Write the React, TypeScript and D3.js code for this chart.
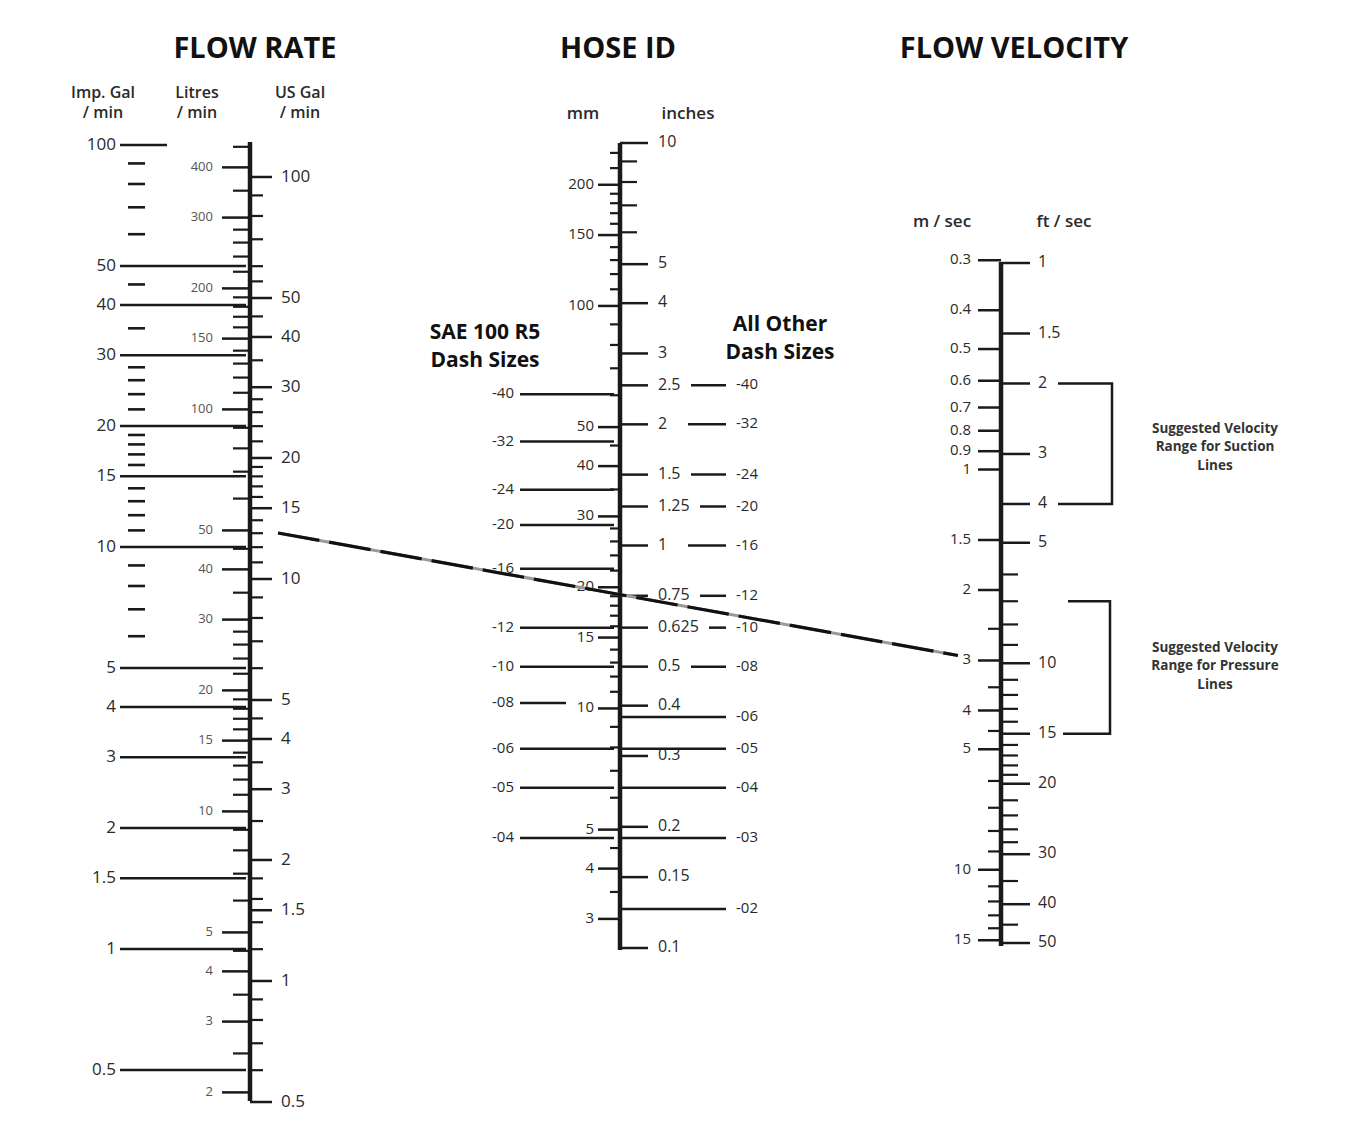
import React from 'react';
import * as d3 from 'd3';

// ---------- FLOW RATE ----------
const usGalMajor = [100, 50, 40, 30, 20, 15, 10, 5, 4, 3, 2, 1.5, 1, 0.5];
const usGalMinor = [90, 80, 70, 60, 55, 45, 35, 28, 26, 24, 22, 19, 18, 17, 16, 14, 13, 12, 11, 9, 8, 7, 6, 4.5, 3.5, 2.5, 1.8, 1.6, 1.4, 1.2, 0.9, 0.8, 0.7, 0.6];
const litreMajor = [400, 300, 200, 150, 100, 50, 40, 30, 20, 15, 10, 5, 4, 3, 2];
const litreMinor = [450, 350, 280, 260, 240, 220, 190, 180, 170, 160, 140, 130, 120, 110, 90, 80, 70, 60, 45, 35, 28, 26, 24, 22, 19, 18, 17, 16, 14, 13, 12, 11, 9, 8, 7, 6, 4.5, 3.5, 2.5];
const impMajor = [100, 50, 40, 30, 20, 15, 10, 5, 4, 3, 2, 1.5, 1, 0.5];
const impMinor = [90, 80, 70, 60, 45, 35, 28, 26, 24, 22, 19, 18, 17, 16, 14, 13, 12, 11, 9, 8, 7, 6];

// ---------- HOSE ID ----------
const inchMajor = [10, 5, 4, 3, 2.5, 2, 1.5, 1.25, 1, 0.75, 0.625, 0.5, 0.4, 0.3, 0.2, 0.15, 0.1];
const inchMinor = [9, 8, 7, 6];
const mmMajor = [200, 150, 100, 50, 40, 30, 20, 15, 10, 5, 4, 3];
const mmMinor = [240, 220, 190, 180, 170, 160, 140, 130, 120, 110, 90, 80, 70, 60, 45, 35, 28, 26, 24, 22, 19, 18, 17, 16, 14, 13, 12, 11, 9, 8, 7, 6, 4.5, 3.5];
const saeDashLabels = ['-40', '-32', '-24', '-20', '-16', '-12', '-10', '-08', '-06', '-05', '-04'];
const saeDashInches = [2.375, 1.8125, 1.375, 1.125, 0.875, 0.625, 0.5, 0.40625, 0.3125, 0.25, 0.1875];
const otherDashLabels = ['-40', '-32', '-24', '-20', '-16', '-12', '-10', '-08', '-06', '-05', '-04', '-03', '-02'];
const otherDashInches = [2.5, 2, 1.5, 1.25, 1, 0.75, 0.625, 0.5, 0.375, 0.3125, 0.25, 0.1875, 0.125];

// ---------- FLOW VELOCITY ----------
const ftMajor = [1, 1.5, 2, 3, 4, 5, 10, 15, 20, 30, 40, 50];
const ftMinor = [6, 7, 8, 9, 11, 12, 13, 14, 16, 17, 18, 19, 22, 24, 26, 28, 35, 45];
const msMajor = [0.3, 0.4, 0.5, 0.6, 0.7, 0.8, 0.9, 1, 1.5, 2, 3, 4, 5, 10, 15];
const msMinor = [2.5, 3.5, 4.5, 6, 7, 8, 9, 11, 12, 13, 14];
const suctionRangeFt = [2, 4];
const pressureRangeFt = [7, 15];

// ---------- EXAMPLE ----------
const exampleFlowUsGpm = 13.4;
const exampleVelocityFt = 10;

const FONT = "'Open Sans', 'DejaVu Sans', sans-serif";
const INK = '#1a1a1a';
const TXT = '#2a2a2a';

const fmt = (v: number) => String(v);

export default function App() {
  // flow scales
  const usGal = d3.scaleLog().domain([1, 100]).range([981, 177]);
  const litreY = (v: number) => usGal(v / 3.78541);
  const impY = (v: number) => usGal(v * 1.20095);
  // hose scales
  const inch = d3.scaleLog().domain([0.1, 10]).range([948, 143]);
  const mmY = (v: number) => inch(v / 25.4);
  // velocity scales
  const ft = d3.scaleLog().domain([1, 50]).range([263, 943]);
  const msY = (v: number) => ft(v * 3.28084);

  const fx = 250, hx = 620, vx = 1001;

  const yA = usGal(exampleFlowUsGpm);
  const yB = ft(exampleVelocityFt);
  const slope = (yB - yA) / (vx - fx);
  const lx1 = 278, lx2 = 958;
  const ly1 = yA + slope * (lx1 - fx);
  const ly2 = yA + slope * (lx2 - fx);

  const hl = (key: string, x1: number, x2: number, y: number, w = 2.2) => (
    <line key={key} x1={x1} x2={x2} y1={y} y2={y} stroke={INK} strokeWidth={w} />
  );

  return (
    <svg width={1355} height={1136} style={{ position: 'absolute', left: 0, top: 0, background: '#fff' }} fontFamily={FONT}>
      <rect x={0} y={0} width={1355} height={1136} fill="#fff" />

      {/* Titles */}
      <g fontWeight={700} fontSize={29} fill="#111" textAnchor="middle">
        <text x={255} y={58}>FLOW RATE</text>
        <text x={618} y={58}>HOSE ID</text>
        <text x={1014} y={58}>FLOW VELOCITY</text>
      </g>

      {/* Sub headers */}
      <g fontWeight={600} fontSize={16} fill={TXT} textAnchor="middle">
        <text x={103} y={98}>Imp. Gal</text>
        <text x={103} y={118}>/ min</text>
        <text x={197} y={98}>Litres</text>
        <text x={197} y={118}>/ min</text>
        <text x={300} y={98}>US Gal</text>
        <text x={300} y={118}>/ min</text>
      </g>
      <g fontWeight={600} fontSize={17} fill={TXT} textAnchor="middle">
        <text x={583} y={119}>mm</text>
        <text x={688} y={119}>inches</text>
        <text x={942} y={227}>m / sec</text>
        <text x={1064} y={227}>ft / sec</text>
      </g>

      {/* ===== FLOW RATE AXIS ===== */}
      <line x1={fx} x2={fx} y1={142} y2={1101} stroke={INK} strokeWidth={4.5} />
      {usGalMajor.map((v) => hl('ug' + v, fx, 272, usGal(v), 2.5))}
      {usGalMinor.map((v) => hl('ugm' + v, fx, 263, usGal(v), 2.2))}
      <g fontSize={17} fill={TXT} dominantBaseline="middle">
        {usGalMajor.map((v) => (
          <text key={'ugt' + v} x={281} y={usGal(v)}>{fmt(v)}</text>
        ))}
      </g>
      {litreMajor.map((v) => hl('lt' + v, 222, fx, litreY(v), 2.5))}
      {litreMinor.map((v) => hl('ltm' + v, 233, fx, litreY(v), 2.2))}
      <g fontSize={13} fill="#555" textAnchor="end" dominantBaseline="middle">
        {litreMajor.map((v) => (
          <text key={'ltt' + v} x={213} y={litreY(v)}>{fmt(v)}</text>
        ))}
      </g>
      {impMajor.map((v) => hl('im' + v, 120, v === 100 ? 167 : 246, impY(v), 2.6))}
      {impMinor.map((v) => hl('imm' + v, 128, 145, impY(v), 2.6))}
      <g fontSize={17} fill={TXT} textAnchor="end" dominantBaseline="middle">
        {impMajor.map((v) => (
          <text key={'imt' + v} x={116} y={impY(v)}>{fmt(v)}</text>
        ))}
      </g>

      {/* ===== HOSE ID AXIS ===== */}
      <line x1={hx} x2={hx} y1={143} y2={950} stroke={INK} strokeWidth={4.5} />
      {inchMajor.map((v) => hl('in' + v, hx, 648, inch(v), 2.5))}
      {inchMinor.map((v) => hl('inm' + v, hx, 637, inch(v), 2.2))}
      <g fontSize={16} fill={TXT} dominantBaseline="middle">
        {inchMajor.map((v) => (
          <text key={'int' + v} x={658} y={inch(v)}>{fmt(v)}</text>
        ))}
      </g>
      {mmMajor.map((v) => hl('mm' + v, 598, hx, mmY(v), 2.5))}
      {mmMinor.map((v) => hl('mmm' + v, 610, hx, mmY(v), 2.2))}
      <g fontSize={15} fill={TXT} textAnchor="end" dominantBaseline="middle">
        {mmMajor.map((v) => (
          <text key={'mmt' + v} x={594} y={mmY(v)}>{fmt(v)}</text>
        ))}
      </g>

      {/* Dash size headings */}
      <g fontWeight={700} fontSize={21} fill="#111" textAnchor="middle">
        <text x={485} y={339}>SAE 100 R5</text>
        <text x={485} y={367}>Dash Sizes</text>
        <text x={780} y={331}>All Other</text>
        <text x={780} y={359}>Dash Sizes</text>
      </g>
      {saeDashInches.map((v, i) => hl('sae' + i, 520, saeDashLabels[i] === '-08' ? 566 : 614, inch(v), 2.5))}
      <g fontSize={15} fill={TXT} textAnchor="end" dominantBaseline="middle">
        {saeDashInches.map((v, i) => (
          <text key={'saet' + i} x={514} y={inch(v)}>{saeDashLabels[i]}</text>
        ))}
      </g>
      {otherDashInches.map((v, i) => {
        const labelled = inchMajor.indexOf(v) >= 0;
        const lbl = fmt(v);
        const start = labelled ? Math.max(688, 658 + lbl.length * 9 + 6) : 622;
        return hl('oth' + i, start, 726, inch(v), 2.5);
      })}
      <g fontSize={15} fill={TXT} dominantBaseline="middle">
        {otherDashInches.map((v, i) => (
          <text key={'otht' + i} x={736} y={inch(v)}>{otherDashLabels[i]}</text>
        ))}
      </g>

      {/* ===== FLOW VELOCITY AXIS ===== */}
      <line x1={vx} x2={vx} y1={262} y2={946} stroke={INK} strokeWidth={4.5} />
      {ftMajor.map((v) => hl('ft' + v, vx, 1030, ft(v), 2.5))}
      {ftMinor.map((v) => hl('ftm' + v, vx, 1018, ft(v), 2.2))}
      <g fontSize={16} fill={TXT} dominantBaseline="middle">
        {ftMajor.map((v) => (
          <text key={'ftt' + v} x={1038} y={ft(v)}>{fmt(v)}</text>
        ))}
      </g>
      {msMajor.map((v) => hl('ms' + v, 978, vx, msY(v), 2.5))}
      {msMinor.map((v) => hl('msm' + v, 988, vx, msY(v), 2.2))}
      <g fontSize={15} fill={TXT} textAnchor="end" dominantBaseline="middle">
        {msMajor.map((v) => (
          <text key={'mst' + v} x={971} y={msY(v)}>{fmt(v)}</text>
        ))}
      </g>

      {/* Brackets */}
      <g stroke={INK} strokeWidth={2.5} fill="none">
        <polyline points={`1058,${ft(suctionRangeFt[0])} 1112,${ft(suctionRangeFt[0])} 1112,${ft(suctionRangeFt[1])} 1058,${ft(suctionRangeFt[1])}`} />
        <polyline points={`1068,${ft(pressureRangeFt[0])} 1110,${ft(pressureRangeFt[0])} 1110,${ft(pressureRangeFt[1])} 1063,${ft(pressureRangeFt[1])}`} />
      </g>
      <g fontWeight={700} fontSize={13.5} fill="#333" textAnchor="middle">
        <text x={1215} y={433}>Suggested Velocity</text>
        <text x={1215} y={451}>Range for Suction</text>
        <text x={1215} y={470}>Lines</text>
        <text x={1215} y={652}>Suggested Velocity</text>
        <text x={1215} y={670}>Range for Pressure</text>
        <text x={1215} y={689}>Lines</text>
      </g>

      {/* Example line */}
      <line x1={lx1} y1={ly1} x2={lx2} y2={ly2} stroke="#9a9a9a" strokeWidth={3} />
      <line x1={lx1} y1={ly1} x2={lx2} y2={ly2} stroke="#111" strokeWidth={3.2} strokeDasharray="42 10" />
    </svg>
  );
}
